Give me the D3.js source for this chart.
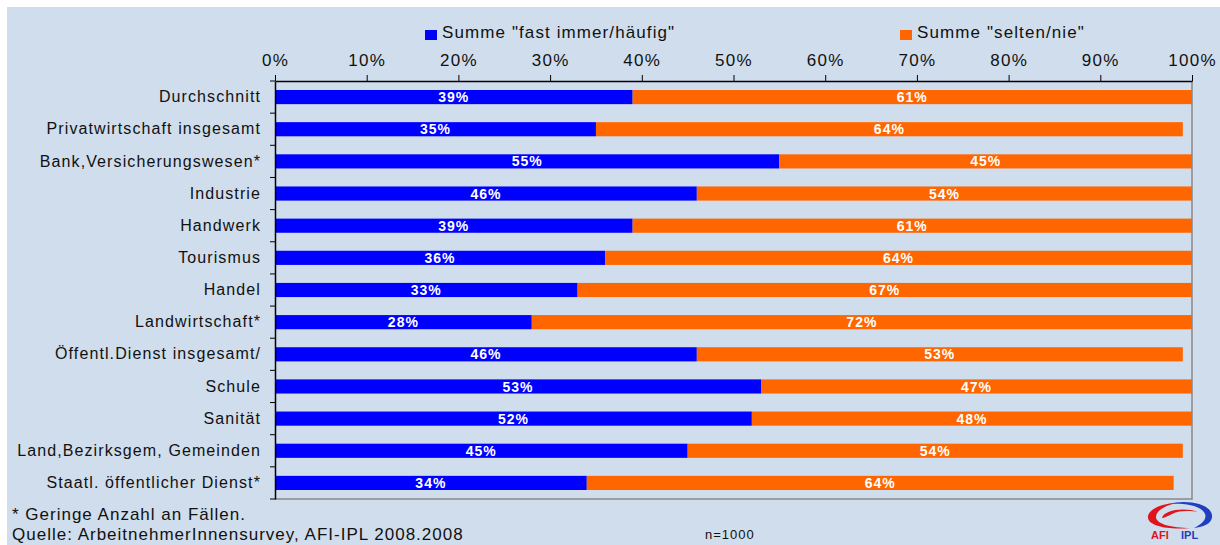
<!DOCTYPE html>
<html>
<head>
<meta charset="utf-8">
<script src="https://cdn.jsdelivr.net/npm/d3@7"></script>
<style>
  body { margin: 0; background: #fff; }
  svg { display: block; font-family: "Liberation Sans", Arial, sans-serif; }
</style>
</head>
<body>
<div class="vizHolder"></div>
<script>
var categories = ["Durchschnitt", "Privatwirtschaft insgesamt", "Bank,Versicherungswesen*",
    "Industrie", "Handwerk", "Tourismus", "Handel", "Landwirtschaft*",
    "Öffentl.Dienst insgesamt/", "Schule", "Sanität", "Land,Bezirksgem, Gemeinden",
    "Staatl. öffentlicher Dienst*"];
var oftValues = [39, 35, 55, 46, 39, 36, 33, 28, 46, 53, 52, 45, 34];
var seltenValues = [61, 64, 45, 54, 61, 64, 67, 72, 53, 47, 48, 54, 64];
var seriesNames = ["Summe \"fast immer/häufig\"", "Summe \"selten/nie\""];
var tickValues = [0, 10, 20, 30, 40, 50, 60, 70, 80, 90, 100];

var W = 1220, H = 545;
var margin = {top: 81, left: 275, right: 28, bottom: 46};
var width = W - margin.left - margin.right,
    height = H - margin.top - margin.bottom;

var colors = ["#0000ff", "#ff6600"];
var textColor = "#111";

var svg = d3.select(".vizHolder").append("svg")
    .attr("width", W).attr("height", H);

svg.append("rect")
    .attr("x", 7).attr("y", 7)
    .attr("width", W - 7).attr("height", H - 7)
    .attr("fill", "#d0ddec");

var g = svg.append("g")
    .attr("transform", "translate(" + margin.left + "," + margin.top + ")");

var xScale = d3.scaleLinear().domain([0, 100]).range([0, width]);
var yScale = d3.scaleBand().domain(categories).range([0, height]).paddingInner(0.56).paddingOuter(0.28);
var bandStep = yScale.step();

// frame right / bottom
g.append("path")
    .attr("d", "M" + width + ",0V" + height + "H0")
    .attr("fill", "none").attr("stroke", "#888").attr("stroke-width", 1.5);

var data = categories.map(function(c, i) {
    return {cat: c, oft: oftValues[i], selten: seltenValues[i]};
});

var rows = g.selectAll(".row").data(data).enter().append("g")
    .attr("class", "row")
    .attr("transform", function(d) { return "translate(0," + yScale(d.cat) + ")"; });

rows.append("rect")
    .attr("x", 0)
    .attr("width", function(d) { return xScale(d.oft); })
    .attr("height", yScale.bandwidth())
    .attr("fill", colors[0]);

rows.append("rect")
    .attr("x", function(d) { return xScale(d.oft); })
    .attr("width", function(d) { return xScale(d.selten); })
    .attr("height", yScale.bandwidth())
    .attr("fill", colors[1]);

function valueLabel(sel) {
    sel.attr("y", yScale.bandwidth() / 2)
        .attr("dy", "0.36em")
        .attr("text-anchor", "middle")
        .attr("fill", "#fff").attr("font-weight", "bold").attr("font-size", 14)
        .attr("letter-spacing", 1);
}

rows.append("text")
    .attr("x", function(d) { return xScale(d.oft / 2); })
    .call(valueLabel)
    .text(function(d) { return d.oft + "%"; });

rows.append("text")
    .attr("x", function(d) { return xScale(d.oft + d.selten / 2); })
    .call(valueLabel)
    .text(function(d) { return d.selten + "%"; });

// x axis (top)
var xAxis = d3.axisTop(xScale).tickValues(tickValues)
    .tickFormat(function(d) { return d + "%"; })
    .tickSize(6).tickSizeOuter(0).tickPadding(9);
var xg = g.append("g").call(xAxis);
xg.select(".domain").attr("stroke", "#000").attr("stroke-width", 1.5);
xg.selectAll(".tick line").attr("stroke", "#000");
xg.selectAll("text").attr("font-size", 17).attr("fill", textColor)
    .attr("letter-spacing", 1.3)
    .attr("font-family", "'Liberation Sans', Arial, sans-serif");

// y axis
var yAxis = d3.axisLeft(yScale).tickSize(0).tickPadding(14);
var yg = g.append("g").call(yAxis);
yg.select(".domain").attr("stroke", "#000").attr("stroke-width", 1.5);
yg.selectAll("text").attr("font-size", 16).attr("fill", textColor)
    .attr("letter-spacing", 1.1)
    .attr("font-family", "'Liberation Sans', Arial, sans-serif");

// category separator ticks
g.selectAll(".sep").data(d3.range(categories.length + 1)).enter().append("line")
    .attr("x1", -5).attr("x2", 0)
    .attr("y1", function(i) { return i * bandStep; })
    .attr("y2", function(i) { return i * bandStep; })
    .attr("stroke", "#000");

// legend
var legendX = [425, 900];
var legend = svg.selectAll(".legend").data(seriesNames).enter().append("g")
    .attr("class", "legend")
    .attr("transform", function(d, i) { return "translate(" + legendX[i] + ",28)"; });
legend.append("rect")
    .attr("y", 2).attr("width", 12).attr("height", 10)
    .attr("fill", function(d, i) { return colors[i]; });
legend.append("text")
    .attr("x", 17).attr("y", 10)
    .attr("font-size", 17).attr("fill", textColor)
    .attr("letter-spacing", 1.1)
    .text(function(d) { return d; });

// footer
svg.append("text").attr("x", 12).attr("y", 520).attr("font-size", 17).attr("fill", textColor)
    .attr("letter-spacing", 1)
    .text("* Geringe Anzahl an Fällen.");
svg.append("text").attr("x", 12).attr("y", 540).attr("font-size", 17).attr("fill", textColor)
    .attr("letter-spacing", 1)
    .text("Quelle: ArbeitnehmerInnensurvey, AFI-IPL 2008.2008");
svg.append("text").attr("x", 705).attr("y", 539).attr("font-size", 13).attr("fill", textColor)
    .attr("letter-spacing", 1)
    .text("n=1000");

// logo
var logo = svg.append("g").attr("transform", "translate(1180,515)");
// blue arc top/right
logo.append("path")
    .attr("d", "M-12,-11 C6,-16 30,-12 32,0 C33,8 24,12 14,13 C22,9 27,4 25,-1 C22,-9 6,-12 -12,-11Z")
    .attr("fill", "#1f3fbf");
// red swoosh left/bottom
logo.append("path")
    .attr("d", "M-4,-12 C-22,-11 -33,-4 -32,3 C-31,11 -12,15 10,13 C-8,13 -24,9 -24,2 C-24,-4 -16,-9 -4,-12Z")
    .attr("fill", "#e0141c");
logo.append("path")
    .attr("d", "M-18,3 C-16,-5 4,-8 18,-3 C16,-3 2,-6 -8,-1 C-12,1 -16,3 -18,3Z")
    .attr("fill", "#e0141c");
logo.append("text").attr("x", -29).attr("y", 24).attr("font-size", 11).attr("font-weight", "bold")
    .attr("fill", "#e0141c").text("AFI");
logo.append("text").attr("x", 1).attr("y", 24).attr("font-size", 11).attr("font-weight", "bold")
    .attr("fill", "#1f3fbf").text("IPL");
</script>
</body>
</html>
